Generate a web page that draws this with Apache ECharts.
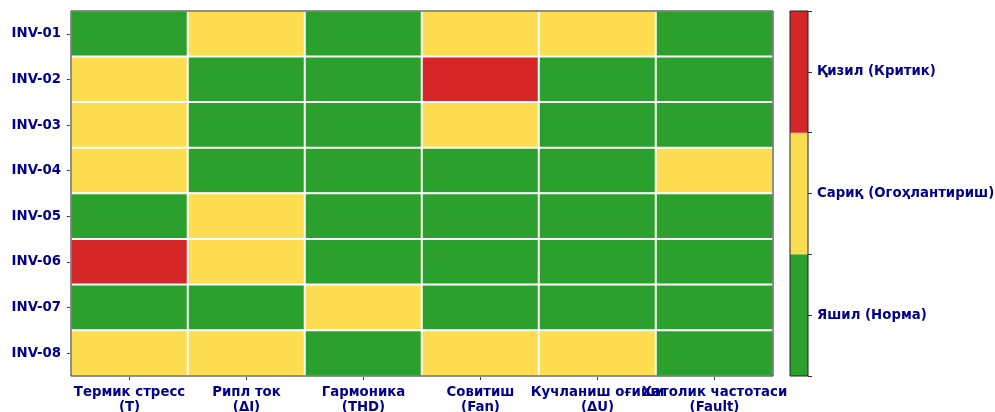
<!DOCTYPE html>
<html>
<head>
<meta charset="utf-8">
<script src="https://cdn.jsdelivr.net/npm/echarts@6/dist/echarts.min.js"></script>
<style>
  html, body { margin: 0; padding: 0; background: #fff; }
  #chart { width: 995px; height: 412px; }
</style>
</head>
<body>
<div id="chart"></div>
<script>
// categories
const params = ['Термик стресс\n(T)', 'Рипл ток\n(ΔI)', 'Гармоника\n(THD)', 'Совитиш\n(Fan)', 'Кучланиш оғиши\n(ΔU)', 'Хатолик частотаси\n(Fault)']
const inverters = ['INV-01', 'INV-02', 'INV-03', 'INV-04', 'INV-05', 'INV-06', 'INV-07', 'INV-08']
// 0 = Яшил, 1 = Сариқ, 2 = Қизил
const statusRows = [
  [0, 1, 0, 1, 1, 0],
  [1, 0, 0, 2, 0, 0],
  [1, 0, 0, 1, 0, 0],
  [1, 0, 0, 0, 0, 1],
  [0, 1, 0, 0, 0, 0],
  [2, 1, 0, 0, 0, 0],
  [0, 0, 1, 0, 0, 0],
  [1, 1, 0, 1, 1, 0]
]
const levelNames = ['Яшил (Норма)', 'Сариқ (Огоҳлантириш)', 'Қизил (Критик)']
const levelColors = ['#2ca02c', '#ffdd50', '#d62728']

const labelColor = '#00008b'
const font = 'DejaVu Sans'

let cells = []
statusRows.forEach((row, r) => {
  row.forEach((v, c) => cells.push([c, r, v]))
})

const chart = echarts.init(document.getElementById('chart'))
const option = {
  animation: false,
  grid: [
    { left: 71, top: 11, width: 702, height: 365, outerBoundsMode: 'none', containLabel: false, show: true, borderColor: '#222', borderWidth: 1, backgroundColor: 'transparent', z: 5 },
    { left: 790, top: 11, width: 18, height: 365, outerBoundsMode: 'none', containLabel: false, show: true, borderColor: '#222', borderWidth: 1, backgroundColor: 'transparent', z: 5 }
  ],
  visualMap: {
    show: false,
    type: 'piecewise',
    seriesIndex: 0,
    dimension: 2,
    pieces: levelColors.map((col, i) => ({ value: i, color: col }))
  },
  xAxis: [
    {
      gridIndex: 0,
      type: 'category',
      data: params,
      axisLine: { show: false },
      axisTick: { show: true, alignWithLabel: true, length: 4, lineStyle: { color: '#333' } },
      axisLabel: { color: labelColor, fontFamily: font, fontWeight: 'bold', fontSize: 13.3, lineHeight: 15, margin: 9, interval: 0, hideOverlap: false },
      splitLine: { show: false }
    },
    {
      gridIndex: 1,
      type: 'category',
      data: ['cb'],
      show: false
    }
  ],
  yAxis: [
    {
      gridIndex: 0,
      type: 'category',
      data: inverters,
      inverse: true,
      axisLine: { show: false },
      axisTick: { show: true, alignWithLabel: true, length: 4, lineStyle: { color: '#333' } },
      axisLabel: { color: labelColor, fontFamily: font, fontWeight: 'bold', fontSize: 13.3, margin: 10 },
      splitLine: { show: false }
    },
    {
      gridIndex: 1,
      type: 'value',
      position: 'right',
      min: 0,
      max: 3,
      interval: 0.5,
      axisLine: { show: false },
      axisTick: { show: true, length: 4, lineStyle: { color: '#333' } },
      splitLine: { show: false },
      axisLabel: {
        color: labelColor, fontFamily: font, fontWeight: 'bold', fontSize: 13.3, margin: 9,
        formatter(value) {
          let idx = value - 0.5
          if (Number.isInteger(idx) && idx >= 0 && idx < 3) {
            return levelNames[idx]
          }
          return ''
        }
      }
    }
  ],
  series: [
    {
      type: 'heatmap',
      xAxisIndex: 0,
      yAxisIndex: 0,
      data: cells,
      itemStyle: { borderColor: '#ffffff', borderWidth: 2 },
      emphasis: { disabled: true }
    }
  ].concat(levelColors.map((col, i) => ({
    type: 'bar',
    xAxisIndex: 1,
    yAxisIndex: 1,
    stack: 'cb',
    barWidth: '100%',
    data: [1],
    itemStyle: { color: col },
    silent: true
  })))
}
chart.setOption(option)
</script>
</body>
</html>
